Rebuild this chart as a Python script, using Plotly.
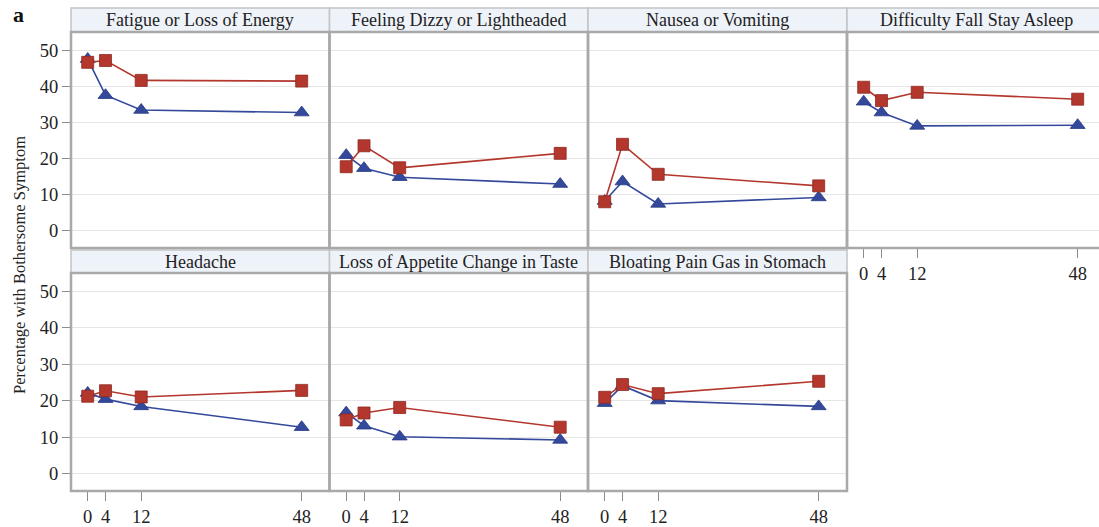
import plotly.graph_objects as go

# Weeks since baseline
weeks = [0, 4, 12, 48]

panels = [
    "Fatigue or Loss of Energy",
    "Feeling Dizzy or Lightheaded",
    "Nausea or Vomiting",
    "Difficulty Fall Stay Asleep",
    "Headache",
    "Loss of Appetite Change in Taste",
    "Bloating Pain Gas in Stomach",
]

# Percentage with bothersome symptom, group shown with red squares
red_vals = [
    [46.6, 47.1, 41.6, 41.4],
    [17.7, 23.5, 17.4, 21.4],
    [8.0, 23.9, 15.6, 12.4],
    [39.7, 36.0, 38.3, 36.4],
    [21.2, 22.7, 21.0, 22.8],
    [14.7, 16.6, 18.1, 12.7],
    [20.9, 24.4, 21.9, 25.3],
]

# Group shown with blue triangles
blue_vals = [
    [47.5, 37.5, 33.4, 32.7],
    [20.9, 17.3, 14.8, 12.9],
    [8.2, 13.6, 7.4, 9.2],
    [35.7, 32.7, 29.0, 29.2],
    [22.1, 20.4, 18.4, 12.7],
    [16.7, 13.1, 10.1, 9.2],
    [19.3, 24.1, 20.0, 18.4],
]

y_ticks = [0, 10, 20, 30, 40, 50]

W, H = 1099, 527
RED, RED_EDGE = "#b3372d", "#8e2a22"
BLUE, BLUE_EDGE = "#34499b", "#263a80"
BORDER = "#a9a9a9"
STRIP = "#eef2f9"
FONT = "Liberation Serif"

# panel geometry in pixels
col_x = [(71, 329.5), (329.5, 588), (588, 847), (847, 1099)]
row_y = [(32, 248), (273, 491)]
strip_y = [(8, 32), (250, 273)]
PX_PER_WEEK = 4.458
X0_OFFSET = 16.7  # pixels from panel left edge to week 0
Y_RANGE = [-4.8, 55.0]

def fx(px):
    return px / W

def fy(px):
    return 1 - px / H

fig = go.Figure()
layout = {}
shapes = []
annotations = []

for i, name in enumerate(panels):
    r, c = divmod(i, 4)
    n = i + 1
    xa = "xaxis" if n == 1 else f"xaxis{n}"
    ya = "yaxis" if n == 1 else f"yaxis{n}"
    xref = "x" if n == 1 else f"x{n}"
    yref = "y" if n == 1 else f"y{n}"
    x_left, x_right = col_x[c]
    y_top, y_bot = row_y[r]
    x_min = -X0_OFFSET / PX_PER_WEEK
    x_max = x_min + (x_right - x_left) / PX_PER_WEEK

    show_x = (r == 1) or (c == 3)
    layout[xa] = dict(
        domain=[fx(x_left), fx(x_right)],
        range=[x_min, x_max],
        anchor=yref,
        showgrid=False,
        zeroline=False,
        showline=False,
        tickmode="array",
        tickvals=weeks if show_x else [],
        ticktext=[str(w) for w in weeks] if show_x else [],
        ticks="outside" if show_x else "",
        ticklen=9,
        tickwidth=1,
        tickcolor="#8c8c8c",
        tickfont=dict(family=FONT, size=18.5, color="#222"),
        fixedrange=True,
    )
    layout[ya] = dict(
        domain=[fy(y_bot), fy(y_top)],
        range=Y_RANGE,
        anchor=xref,
        showgrid=True,
        gridcolor="#e6e6e6",
        gridwidth=1,
        zeroline=False,
        showline=False,
        tickmode="array",
        tickvals=y_ticks,
        showticklabels=(c == 0),
        ticks="outside" if c == 0 else "",
        ticklen=8,
        tickwidth=1,
        tickcolor="#8c8c8c",
        tickfont=dict(family=FONT, size=18.5, color="#222"),
        fixedrange=True,
    )

    fig.add_trace(go.Scatter(
        x=weeks, y=blue_vals[i], xaxis=xref, yaxis=yref,
        mode="lines+markers", showlegend=False,
        line=dict(color=BLUE, width=1.6),
        marker=dict(symbol="triangle-up", size=13, color=BLUE,
                    line=dict(color=BLUE_EDGE, width=0.8)),
    ))
    fig.add_trace(go.Scatter(
        x=weeks, y=red_vals[i], xaxis=xref, yaxis=yref,
        mode="lines+markers", showlegend=False,
        line=dict(color=RED, width=1.6),
        marker=dict(symbol="square", size=12, color=RED,
                    line=dict(color=RED_EDGE, width=0.8)),
    ))

    # panel frame
    shapes.append(dict(
        type="rect", xref="paper", yref="paper",
        x0=fx(x_left), x1=fx(x_right if c < 3 else 1106),
        y0=fy(y_bot), y1=fy(y_top),
        line=dict(color=BORDER, width=2.5), layer="above",
    ))
    # header strip
    s_top, s_bot = strip_y[r]
    shapes.append(dict(
        type="rect", xref="paper", yref="paper",
        x0=fx(x_left), x1=fx(x_right if c < 3 else 1106),
        y0=fy(s_bot), y1=fy(s_top),
        fillcolor=STRIP, line=dict(color="#c4c4c4", width=1.5), layer="below",
    ))
    annotations.append(dict(
        text=name, xref="paper", yref="paper",
        x=fx((x_left + (x_right if c < 3 else 1106)) / 2),
        y=fy((s_top + s_bot) / 2),
        xanchor="center", yanchor="middle", showarrow=False,
        font=dict(family=FONT, size=18, color="#222"),
    ))

annotations.append(dict(
    text="Percentage with Bothersome Symptom", xref="paper", yref="paper",
    x=fx(19), y=fy(265), textangle=-90, showarrow=False,
    xanchor="center", yanchor="middle",
    font=dict(family=FONT, size=16.5, color="#222"),
))
annotations.append(dict(
    text="<b>a</b>", xref="paper", yref="paper",
    x=fx(18), y=fy(15), showarrow=False,
    xanchor="center", yanchor="middle",
    font=dict(family=FONT, size=22, color="#111"),
))

fig.update_layout(
    width=W, height=H,
    margin=dict(l=0, r=0, t=0, b=0),
    paper_bgcolor="white", plot_bgcolor="white",
    shapes=shapes, annotations=annotations,
    **layout,
)

fig.write_html("out.html", config=dict(displayModeBar=False))
